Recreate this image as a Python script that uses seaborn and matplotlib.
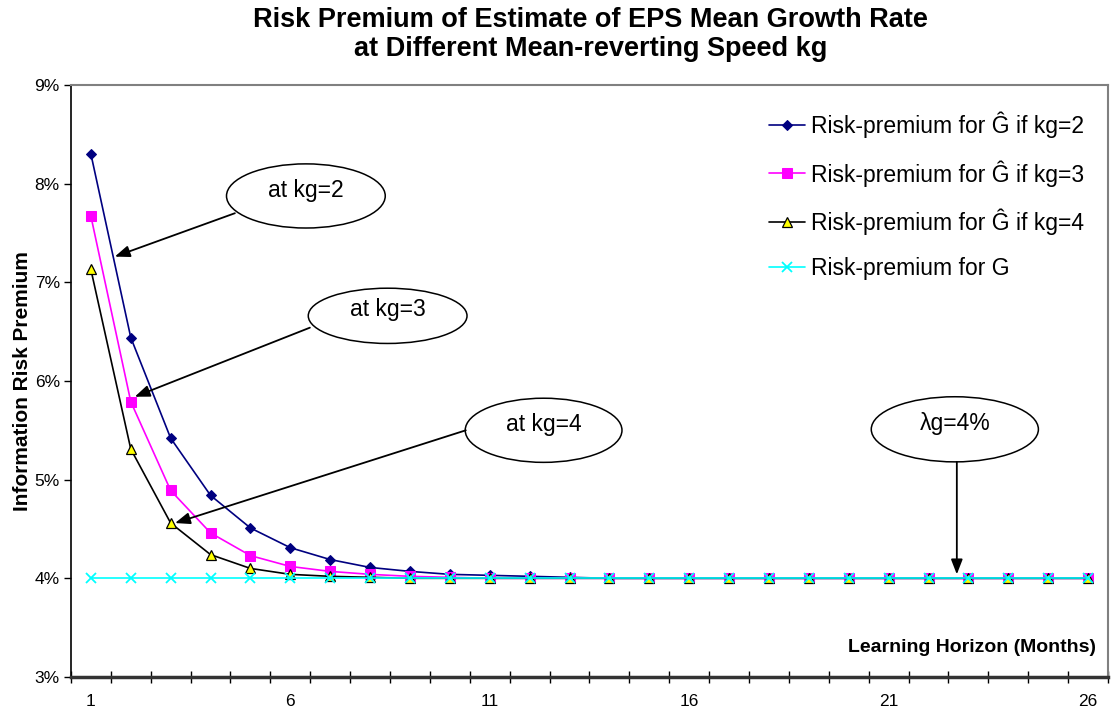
import numpy as np
import pandas as pd
import matplotlib
matplotlib.use("Agg")
import matplotlib.pyplot as plt
import seaborn as sns
from matplotlib.patches import Ellipse
from matplotlib.ticker import FixedLocator, FuncFormatter

# data (values in percent)
months = list(range(1, 27))
rp_kg2 = [8.30, 6.44, 5.42, 4.84, 4.51, 4.31, 4.19, 4.11, 4.07, 4.04, 4.03, 4.02, 4.01,
          4.00, 4.00, 4.00, 4.00, 4.00, 4.00, 4.00, 4.00, 4.00, 4.00, 4.00, 4.00, 4.00]
rp_kg3 = [7.67, 5.79, 4.89, 4.46, 4.23, 4.12, 4.07, 4.04, 4.02, 4.01, 4.00, 4.00, 4.00,
          4.00, 4.00, 4.00, 4.00, 4.00, 4.00, 4.00, 4.00, 4.00, 4.00, 4.00, 4.00, 4.00]
rp_kg4 = [7.13, 5.31, 4.56, 4.24, 4.10, 4.04, 4.02, 4.01, 4.00, 4.00, 4.00, 4.00, 4.00,
          4.00, 4.00, 4.00, 4.00, 4.00, 4.00, 4.00, 4.00, 4.00, 4.00, 4.00, 4.00, 4.00]
rp_g = [4.00] * 26

labels = ["Risk-premium for \u011c if kg=2", "Risk-premium for \u011c if kg=3",
          "Risk-premium for \u011c if kg=4", "Risk-premium for G"]
xtick_labels = ["1", "6", "11", "16", "21", "26"]

# annotation callouts: text, ellipse centre, ellipse size, arrow start, arrow tip
notes = [
    ("at kg=2", (6.39, 7.875), (3.98, 0.65), (4.61, 7.70), (1.60, 7.26)),
    ("at kg=3", (8.44, 6.66), (3.98, 0.56), (6.49, 6.54), (2.10, 5.84)),
    ("at kg=4", (12.35, 5.50), (3.93, 0.65), (10.40, 5.50), (3.11, 4.56)),
    ("\u03bbg=4%", (22.66, 5.51), (4.19, 0.66), (22.71, 5.18), (22.71, 4.04)),
]

sns.set_style("white")
plt.rcParams["font.family"] = ["Liberation Sans", "DejaVu Sans"]
for key in ["text.color", "axes.labelcolor", "xtick.color", "ytick.color"]:
    plt.rcParams[key] = "black"

fig = plt.figure(figsize=(11.12, 7.12), dpi=100)
ax = fig.add_axes([0.0638, 0.0492, 0.9326, 0.8315])

styles = [
    dict(color="#000080", marker="D", markersize=5.5, markerfacecolor="#000080", markeredgecolor="#000080"),
    dict(color="#FF00FF", marker="s", markersize=6.5, markerfacecolor="#FF00FF", markeredgecolor="#FF00FF"),
    dict(color="black", marker="^", markersize=6.5, markerfacecolor="#FFFF00", markeredgecolor="black",
         markeredgewidth=0.9),
    dict(color="#00FFFF", marker="x", markersize=7, markeredgecolor="#00FFFF", markeredgewidth=1.3),
]
for vals, lab, st in zip([rp_kg2, rp_kg3, rp_kg4, rp_g], labels, styles):
    sns.lineplot(x=months, y=vals, ax=ax, label=lab, linewidth=1.2, **st)

ax.set_xlim(0.5, 26.5)
ax.set_ylim(3, 9)
ax.yaxis.set_major_locator(FixedLocator(np.arange(3, 10, 1)))
ax.yaxis.set_major_formatter(FuncFormatter(lambda v, p: f"{v:.0f}%"))
ax.set_xticks([int(t) for t in xtick_labels])
ax.set_xticklabels(xtick_labels)
ax.xaxis.set_minor_locator(FixedLocator(np.arange(0.5, 27, 1)))
ax.tick_params(axis="x", which="major", length=0, pad=12, labelsize=12.5)
ax.tick_params(axis="x", which="minor", length=8, width=1, color="black", direction="inout", bottom=True)
ax.tick_params(axis="y", which="major", length=5, width=1, color="black", direction="out", left=True,
               labelsize=12.5, pad=3)

for side in ["top", "right"]:
    ax.spines[side].set_color("#808080")
    ax.spines[side].set_linewidth(1.5)
ax.spines["left"].set_color("black")
ax.spines["left"].set_linewidth(1.2)
ax.spines["bottom"].set_color("#333333")
ax.spines["bottom"].set_linewidth(2.5)

ax.set_ylabel("Information Risk Premium", fontsize=15, fontweight="bold", labelpad=2)
ax.set_xlabel("")
ax.text(0.988, 0.049, "Learning Horizon (Months)", transform=ax.transAxes, ha="right", va="center",
        fontsize=14, fontweight="bold")

fig.suptitle("Risk Premium of Estimate of EPS Mean Growth Rate\nat Different Mean-reverting Speed kg",
             x=0.531, y=0.99, fontsize=19.5, fontweight="bold", linespacing=1.15)

for text, centre, size, start, tip in notes:
    ax.add_patch(Ellipse(centre, size[0], size[1], facecolor="white", edgecolor="black", linewidth=1.1,
                         zorder=5))
    ax.text(centre[0], centre[1] + 0.06, text, ha="center", va="center", fontsize=16.5, zorder=6)
    ax.annotate("", xy=tip, xytext=start, zorder=6,
                arrowprops=dict(arrowstyle="-|>,head_length=0.9,head_width=0.35", color="black",
                                linewidth=1.3, shrinkA=0, shrinkB=0))

ax.legend(loc="upper left", bbox_to_anchor=(0.664, 0.971), frameon=False, fontsize=16.5,
          handlelength=1.6, handletextpad=0.25, labelspacing=0.97, borderaxespad=0)

fig.savefig("out.png", dpi=100)
